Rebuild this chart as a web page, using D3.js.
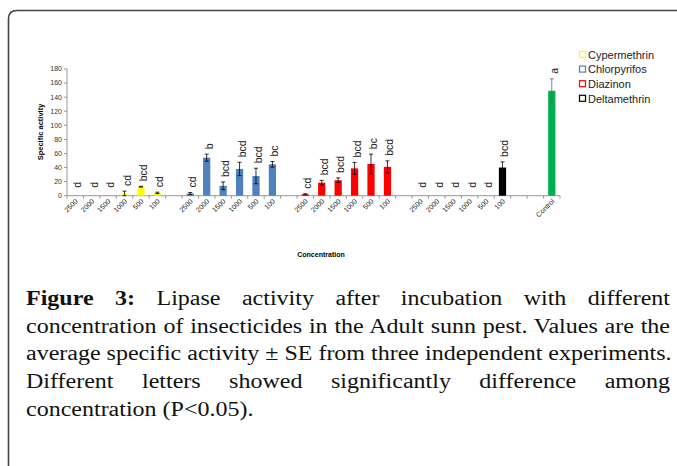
<!DOCTYPE html>
<html>
<head>
<meta charset="utf-8">
<script src="https://cdn.jsdelivr.net/npm/d3@7"></script>
<style>
  body { margin: 0; background: #fff; }
  #wrap { position: relative; width: 677px; height: 466px; overflow: hidden; }
  #chart { position: absolute; left: 0; top: 0; }
  #caption { position: absolute; left: 26px; top: 285px; transform-origin: 0 0;
    font-family: "Liberation Serif", serif; font-size: 20px; color: #111; }
  #caption div { white-space: nowrap; line-height: 27.7px; }
  #caption .just { text-align: justify; text-align-last: justify; }
</style>
</head>
<body>
<div id="wrap">
  <div id="chart"></div>
  <div id="caption"></div>
</div>
<script>
// chart data
const insecticides = ["Cypermethrin", "Chlorpyrifos", "Diazinon", "Deltamethrin"];
const concentrations = ["2500", "2000", "1500", "1000", "500", "100"];
const colors = ["#ffff00", "#4f81bd", "#ff0000", "#000000"];

const cypermethrinValues = [0, 0, 0, 3, 12.8, 4];
const cypermethrinErrors = [0, 0, 0, 3.5, 0.6, 1];
const cypermethrinLetters = ["d", "d", "d", "cd", "bcd", "cd"];

const chlorpyrifosValues = [3, 54, 14, 38, 28, 44.6];
const chlorpyrifosErrors = [1.5, 5, 5.5, 9.5, 11, 4];
const chlorpyrifosLetters = ["cd", "b", "bcd", "bcd", "bcd", "bc"];

const diazinonValues = [2, 18.5, 22, 38.8, 45, 41];
const diazinonErrors = [0.8, 3.3, 3.3, 8.5, 14, 8.5];
const diazinonLetters = ["cd", "bcd", "bcd", "bcd", "bc", "bcd"];

const deltamethrinValues = [0, 0, 0, 0, 0, 40];
const deltamethrinErrors = [0, 0, 0, 0, 0, 8];
const deltamethrinLetters = ["d", "d", "d", "d", "d", "bcd"];

const controlValue = 149;
const controlError = 17;
const controlLetter = "a";

const yTicks = [0, 20, 40, 60, 80, 100, 120, 140, 160, 180];

const captionLines = [
  "<b>Figure 3:</b> Lipase activity after incubation with different",
  "concentration of insecticides in the Adult sunn pest. Values are the",
  "average specific activity \u00b1 SE from three independent experiments.",
  "Different letters showed significantly difference among",
  "concentration (P<0.05)."
];

// build the bar list (one empty slot between groups, two before the control)
const allValues = [cypermethrinValues, chlorpyrifosValues, diazinonValues, deltamethrinValues];
const allErrors = [cypermethrinErrors, chlorpyrifosErrors, diazinonErrors, deltamethrinErrors];
const allLetters = [cypermethrinLetters, chlorpyrifosLetters, diazinonLetters, deltamethrinLetters];

let slots = [];
let bars = [];
insecticides.forEach(function(name, g) {
  concentrations.forEach(function(c, i) {
    let key = name + "|" + c;
    slots.push(key);
    bars.push({ key: key, label: c, value: allValues[g][i], err: allErrors[g][i],
      letter: allLetters[g][i], color: colors[g], errColor: "#000" });
  });
  slots.push("gap" + g);
});
slots.push("gap4");
slots.push("Control");
bars.push({ key: "Control", label: "Control", value: controlValue, err: controlError,
  letter: controlLetter, color: "#00b050", errColor: "#666" });

var width = 677;
var height = 466;

var svg = d3
  .select("#chart")
  .append("svg")
  .attr("width", width)
  .attr("height", height);

// frame
svg.append("path")
  .attr("d", "M8.5,466 L8.5,19 Q8.5,10.5 17,10.5 L677,10.5")
  .style("fill", "none")
  .style("stroke", "#444")
  .style("stroke-width", "1.6");

var x = d3.scaleBand().domain(slots).range([67, 560]).paddingInner(0.56).paddingOuter(0.28);
var y = d3.scaleLinear().domain([0, 180]).range([195.7, 69]);

// y axis
svg.append("line")
  .attr("x1", 67).attr("x2", 67)
  .attr("y1", y(0)).attr("y2", y(180))
  .style("stroke", "#999");
svg.selectAll(".ytick")
  .data(yTicks)
  .enter()
  .append("line")
  .attr("x1", 64).attr("x2", 67)
  .attr("y1", function(d) { return y(d); })
  .attr("y2", function(d) { return y(d); })
  .style("stroke", "#999");
svg.selectAll(".ylabel")
  .data(yTicks)
  .enter()
  .append("text")
  .attr("x", 62)
  .attr("y", function(d) { return y(d) + 2.4; })
  .attr("text-anchor", "end")
  .style("font-family", "Liberation Sans, Arial, sans-serif")
  .style("font-size", "7px")
  .style("fill", "#333")
  .text(function(d) { return d; });

// x axis
var step = x.step();
svg.append("line")
  .attr("x1", 67).attr("x2", 560)
  .attr("y1", y(0)).attr("y2", y(0))
  .style("stroke", "#999");
svg.selectAll(".xtick")
  .data(d3.range(slots.length + 1))
  .enter()
  .append("line")
  .attr("x1", function(i) { return 67 + i * (493 / slots.length); })
  .attr("x2", function(i) { return 67 + i * (493 / slots.length); })
  .attr("y1", y(0))
  .attr("y2", y(0) + 3)
  .style("stroke", "#999");

svg.selectAll(".xlabel")
  .data(bars)
  .enter()
  .append("text")
  .attr("transform", function(d) {
    var cx = x(d.key) + x.bandwidth() / 2 + 3;
    return "translate(" + cx + "," + (y(0) + 6) + ") rotate(-45)";
  })
  .attr("text-anchor", "end")
  .style("font-family", "Liberation Sans, Arial, sans-serif")
  .style("font-size", "7px")
  .style("fill", "#222")
  .text(function(d) { return d.label; });

// bars
svg.selectAll(".bar")
  .data(bars)
  .enter()
  .append("rect")
  .attr("x", function(d) { return x(d.key); })
  .attr("width", x.bandwidth())
  .attr("y", function(d) { return y(d.value); })
  .attr("height", function(d) { return y(0) - y(d.value); })
  .style("fill", function(d) { return d.color; });

// error bars
var withErr = bars.filter(function(d) { return d.err > 0; });
var errs = svg.selectAll(".err").data(withErr).enter().append("g")
  .style("stroke", function(d) { return d.errColor; })
  .style("stroke-width", "0.8");
errs.append("line")
  .attr("x1", function(d) { return x(d.key) + x.bandwidth() / 2; })
  .attr("x2", function(d) { return x(d.key) + x.bandwidth() / 2; })
  .attr("y1", function(d) { return y(Math.max(0, d.value - d.err)); })
  .attr("y2", function(d) { return y(d.value + d.err); });
errs.append("line")
  .attr("x1", function(d) { return x(d.key) + x.bandwidth() / 2 - 2; })
  .attr("x2", function(d) { return x(d.key) + x.bandwidth() / 2 + 2; })
  .attr("y1", function(d) { return y(d.value + d.err); })
  .attr("y2", function(d) { return y(d.value + d.err); });
errs.append("line")
  .attr("x1", function(d) { return x(d.key) + x.bandwidth() / 2 - 2; })
  .attr("x2", function(d) { return x(d.key) + x.bandwidth() / 2 + 2; })
  .attr("y1", function(d) { return y(Math.max(0, d.value - d.err)); })
  .attr("y2", function(d) { return y(Math.max(0, d.value - d.err)); });

// significance letters
svg.selectAll(".letter")
  .data(bars)
  .enter()
  .append("text")
  .attr("transform", function(d) {
    var cx = x(d.key) + x.bandwidth() / 2 + 6;
    var top = y(d.value + d.err) - (d.value > 0 ? 5 : 8);
    return "translate(" + cx + "," + top + ") rotate(-90)";
  })
  .attr("text-anchor", "start")
  .style("font-family", "Liberation Sans, Arial, sans-serif")
  .style("font-size", "10.5px")
  .style("fill", "#222")
  .text(function(d) { return d.letter; });

// axis titles
svg.append("text")
  .attr("transform", "translate(43,132) rotate(-90)")
  .attr("text-anchor", "middle")
  .style("font-family", "Liberation Sans, Arial, sans-serif")
  .style("font-size", "7.5px")
  .style("font-weight", "bold")
  .text("Specific activity");
svg.append("text")
  .attr("x", 321)
  .attr("y", 256.5)
  .attr("text-anchor", "middle")
  .style("font-family", "Liberation Sans, Arial, sans-serif")
  .style("font-size", "7px")
  .style("font-weight", "bold")
  .text("Concentration");

// legend
var legend = svg.selectAll(".legend")
  .data(insecticides)
  .enter()
  .append("g")
  .attr("transform", function(d, i) { return "translate(579," + (55 + i * 14.6) + ")"; });
legend.append("rect")
  .attr("x", 0.5).attr("y", -3.5)
  .attr("width", 6).attr("height", 6)
  .style("fill", "#fff")
  .style("stroke", function(d, i) { return colors[i]; })
  .style("stroke-width", "1.2");
legend.append("text")
  .attr("x", 9)
  .attr("y", 3.8)
  .style("font-family", "Liberation Sans, Arial, sans-serif")
  .style("font-size", "11px")
  .style("fill", "#222")
  .text(function(d) { return d; });

// caption
var sx = 1.2;
var caption = d3.select("#caption")
  .style("width", (644 / sx) + "px")
  .style("transform", "scaleX(" + sx + ")");
caption.selectAll("div")
  .data(captionLines)
  .enter()
  .append("div")
  .attr("class", function(d, i) { return i < captionLines.length - 1 ? "just" : ""; })
  .html(function(d) { return d.replace("<0", "&lt;0"); });
</script>
</body>
</html>
